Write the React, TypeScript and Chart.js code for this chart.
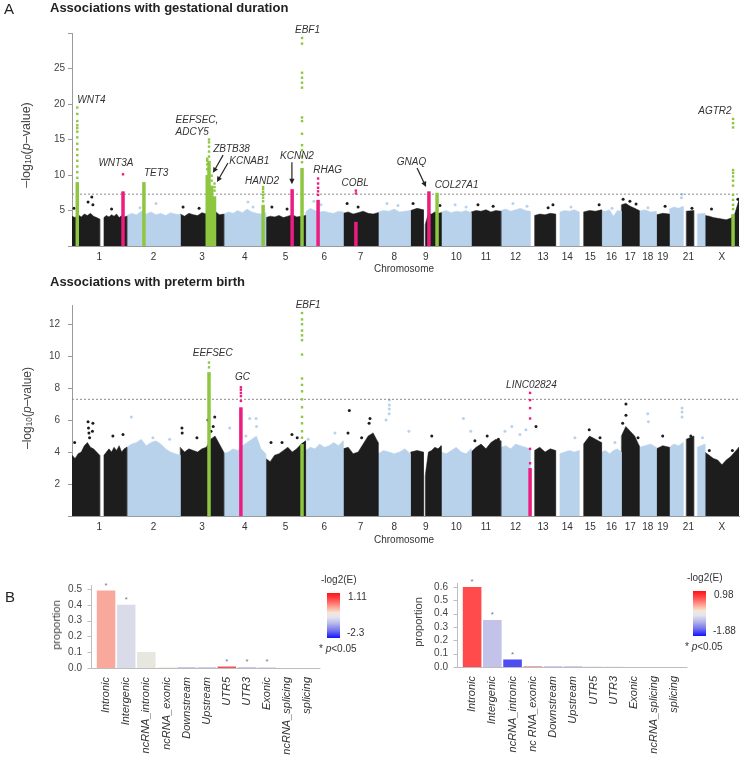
import React, { useEffect, useRef } from 'react';
import { Chart, registerables } from 'chart.js';
Chart.register(...registerables);

const FONT = '"Liberation Sans", Arial, Helvetica, sans-serif';
Chart.defaults.font.family = FONT;

// ---------------- Manhattan data ----------------
const chromNames = ['1','2','3','4','5','6','7','8','9','10','11','12','13','14','15','16','17','18','19','20','21','22','X'];
const chromLengths = [249,243,198,191,181,171,159,146,141,136,135,134,115,107,102,90,81,78,59,63,48,51,155];
const chromTickLabels = ['1','2','3','4','5','6','7','8','9','10','11','12','13','14','15','16','17','18','19','','21','','X'];
const gwThreshold = 7.3;

// [chromosome, startMb, endMb, upper envelope of the dense SNP mass]
const gdBlocks: [number, number, number, number[]][] = [
  [1, 0, 126, [4.2,4.0,4.4,4.1,4.5,4.3,4.6,4.2,4.0,3.8]],
  [1, 145, 249, [4.0,4.3,4.1,4.4,4.2,4.5,4.0,4.3,4.1,4.2]],
  [2, 0, 243, [4.3,4.6,4.4,4.9,4.5,4.8,4.4,4.6,4.3,4.7,4.5,4.4]],
  [3, 0, 198, [4.5,4.2,4.6,4.4,4.3,4.7,4.5,4.8,4.9,4.4,4.5]],
  [4, 0, 191, [4.5,4.8,4.6,5.0,4.7,5.2,4.8,4.6,4.5,4.7]],
  [5, 0, 181, [4.0,4.2,4.1,4.3,4.0,4.2,4.4,4.1,4.2,4.3]],
  [6, 0, 171, [4.8,5.3,5.0,4.8,4.9,4.7,4.6,4.9,4.8]],
  [7, 0, 159, [4.6,4.8,4.5,4.7,4.9,4.6,4.5,4.7]],
  [8, 0, 146, [4.8,5.0,4.9,5.2,4.8,4.9,5.0]],
  [9, 2, 60, [5.0,5.3,5.1]],
  [9, 68, 141, [3.0,4.6,4.5,4.8,4.6,4.7]],
  [10, 0, 136, [4.8,5.0,4.7,4.9,4.8,5.0,4.7]],
  [11, 0, 135, [4.8,5.0,4.9,5.1,4.8,5.0,4.9]],
  [12, 0, 134, [5.0,5.2,4.9,5.1,5.3,5.0,4.9]],
  [13, 19, 115, [4.3,4.5,4.4,4.6,4.5]],
  [14, 19, 107, [4.8,5.0,4.9,5.1,4.8]],
  [15, 20, 102, [4.8,5.0,4.9,5.1]],
  [16, 0, 90, [5.0,4.9,5.1,4.2,5.0,4.9]],
  [17, 0, 81, [5.8,6.0,5.6,5.3,5.0]],
  [18, 0, 78, [4.9,5.1,4.8,4.9]],
  [19, 0, 59, [4.4,4.6,4.5]],
  [20, 0, 63, [5.2,5.5,5.3,5.6]],
  [21, 14, 48, [4.9,5.0]],
  [22, 16, 51, [4.5,4.6]],
  [23, 0, 155, [4.3,4.2,4.0,3.9,3.8,3.7,3.9,4.5,6.5]],
];
const gdOutliers: [number, number, number][] = [
  [1,9,5.3],[1,73,6.2],[1,90,6.9],[1,95,5.8],[1,180,5.2],[2,60,5.4],[2,133,6.0],[3,13,5.5],[3,86,5.3],
  [4,110,6.2],[4,133,5.5],[5,28,5.5],[5,97,5.2],[6,38,6.3],[6,70,5.8],[7,18,6.0],[7,68,5.5],[8,40,6.0],
  [8,90,5.7],[9,13,6.0],[9,135,5.7],[10,63,5.8],[10,113,5.5],[11,31,5.8],[11,100,5.6],[12,55,6.0],
  [12,119,5.6],[13,81,5.4],[13,103,5.8],[14,70,5.5],[15,91,5.8],[16,48,5.3],[17,8,6.6],[17,39,6.3],
  [17,67,5.9],[18,40,5.4],[19,40,5.6],[20,58,7.3],[20,55,6.8],[21,40,5.3],[23,150,6.6],[23,30,5.2],
];
// [chromosome, posMb, top of solid column, individual points above, highlight]
const gdHits: [number, number, number, number[], string][] = [
  [1, 24, 9.0, [9.6,10.4,11.2,12.0,12.8,13.6,14.4,15.3,16.1,16.6,17.0,17.6,18.6,19.5], 'green'],
  [1, 232, 7.7, [10.1], 'pink'],
  [2, 78, 9.0, [], 'green'],
  [3, 123, 10.0, [10.8,11.5,12.0,12.3], 'green'],
  [3, 131, 12.0, [12.6,13.3,14.0,14.6,15.0], 'green'],
  [3, 143, 8.5, [9.2,9.9], 'green'],
  [3, 156, 7.0, [7.8,8.3,8.8], 'green'],
  [4, 179, 5.8, [6.3,6.8,7.2,7.6,8.0,8.3], 'green'],
  [5, 120, 8.0, [], 'pink'],
  [5, 165, 11.0, [11.8,12.6,13.5,14.2,15.8,17.6,18.1,22.3,23.0,23.7,24.4,28.5,29.3], 'green'],
  [6, 57, 6.5, [7.2,7.7,8.2,8.8,9.5], 'pink'],
  [7, 58, 3.4, [7.4,7.8], 'pink'],
  [9, 85, 7.7, [], 'pink'],
  [9, 122, 7.5, [], 'green'],
  [23, 128, 4.5, [5.2,5.8,6.5,7.2,8.5,9.2,9.8,10.3,10.7,16.7,17.3,17.9], 'green'],
];
// [gene, genome position (Mb), -log10 p at text baseline]
const gdGeneLabels: [string, number, number][] = [
  ['WNT4', 24, 20.1], ['WNT3A', 120, 11.2], ['TET3', 327, 9.8], ['EEFSEC,', 471, 17.3], ['ADCY5', 471, 15.6],
  ['ZBTB38', 642, 13.3], ['KCNAB1', 715, 11.6], ['HAND2', 787, 8.7], ['KCNN2', 946, 12.2], ['EBF1', 1014, 30.0],
  ['RHAG', 1097, 10.3], ['COBL', 1226, 8.5], ['GNAQ', 1477, 11.4], ['COL27A1', 1649, 8.2], ['AGTR2', 2848, 18.6],
];
const gdArrows: [number, number, number, number][] = [
  [687, 12.8, 641, 10.3], [709, 11.7, 659, 9.0], [1000, 11.8, 1000, 8.7], [1569, 11.0, 1610, 8.3],
];

const ptbBlocks: [number, number, number, number[]][] = [
  [1, 0, 126, [3.8,3.6,3.9,4.0,4.4,4.6,4.3,4.2,4.0,3.8]],
  [1, 145, 249, [3.8,4.0,4.2,4.0,4.3,4.1,4.4,4.0,4.2,4.3]],
  [2, 0, 243, [4.3,4.5,4.6,4.8,4.4,4.6,4.7,4.5,4.2,4.0,3.9,3.8]],
  [3, 0, 198, [4.3,4.0,4.2,4.1,4.0,4.2,4.3,4.8,5.0,4.5,4.0]],
  [4, 0, 191, [3.9,4.0,4.2,4.1,4.4,4.6,4.8,5.0,4.2,3.9]],
  [5, 0, 181, [3.6,3.4,3.8,3.9,4.1,4.3,4.0,4.2,4.5,4.7]],
  [6, 0, 171, [4.1,4.3,4.2,4.5,4.3,4.4,4.6,4.4,4.7]],
  [7, 0, 159, [4.2,4.3,3.9,4.0,4.5,5.0,5.2,4.6]],
  [8, 0, 146, [3.9,4.1,4.0,3.9,4.0,4.2,3.9]],
  [9, 2, 60, [4.0,4.1,4.0]],
  [9, 68, 141, [2.5,4.0,4.1,4.3,4.2,4.4]],
  [10, 0, 136, [4.0,3.9,4.1,4.3,4.0,3.9,4.2]],
  [11, 0, 135, [4.0,4.3,4.5,4.2,4.6,4.8,4.7]],
  [12, 0, 134, [4.3,4.4,4.2,4.5,4.4,4.3,4.2]],
  [13, 19, 115, [4.1,4.3,4.0,4.2,4.1]],
  [14, 19, 107, [3.9,4.0,4.1,4.0,4.1]],
  [15, 20, 102, [4.5,5.0,4.8,4.6]],
  [16, 0, 90, [4.0,4.1,3.9,4.1,4.2,4.0]],
  [17, 0, 81, [5.0,5.6,5.3,5.0,4.4]],
  [18, 0, 78, [4.3,4.4,4.5,4.3]],
  [19, 0, 59, [4.2,4.4,4.3]],
  [20, 0, 63, [4.3,4.5,4.4,4.6]],
  [21, 14, 48, [4.8,5.0]],
  [22, 16, 51, [4.3,4.5]],
  [23, 0, 155, [4.0,3.8,3.6,3.5,3.2,3.5,3.7,4.0,4.3]],
];
const ptbOutliers: [number, number, number][] = [
  [1,12,4.6],[1,73,5.9],[1,75,5.5],[1,77,5.2],[1,80,4.9],[1,95,5.8],[1,93,5.3],[1,186,5.0],[1,232,5.1],
  [2,21,6.2],[2,119,4.9],[2,195,4.8],
  [3,8,5.5],[3,9,5.2],[3,76,4.9],[3,126,6.0],[3,157,6.2],[3,150,5.6],[3,140,5.3],[4,27,5.5],[4,101,5.0],[4,118,6.1],[4,147,6.1],
  [4,149,5.6],[5,24,4.6],[5,74,4.6],[5,119,5.1],[5,143,4.9],[6,12,4.8],[6,134,5.2],[7,22,5.2],[7,28,6.6],
  [7,84,4.9],[7,118,5.8],[7,122,6.1],[8,36,6.0],[8,51,7.25],[8,51,6.95],[8,51,6.7],[8,50,6.4],[8,140,5.3],
  [9,98,5.0],[10,101,6.1],[10,134,5.3],[11,17,4.7],[11,73,5.0],[11,124,4.8],[12,19,5.3],[12,50,5.6],
  [12,87,5.1],[12,114,5.4],[13,26,5.6],[14,88,4.9],[15,46,5.4],[15,95,4.9],[16,61,4.6],[17,21,7.0],
  [17,21,6.3],[17,6,5.8],[17,76,4.9],[18,39,6.4],[18,42,5.9],[19,29,5.0],[20,58,6.75],[20,58,6.5],
  [20,58,6.2],[21,35,5.0],[22,40,4.9],[23,20,4.1],[23,125,4.1],
];
const ptbHits: [number, number, number, number[], string][] = [
  [3, 131, 9.0, [9.3,9.6], 'green'],
  [4, 78, 6.8, [7.2,7.5,7.7,7.9,8.05], 'pink'],
  [5, 165, 4.5, [4.9,5.3,5.8,6.2,6.8,7.3,7.8,8.2,8.6,10.1,11.0,11.3,11.6,12.0,12.3,12.7], 'green'],
  [12, 133, 3.0, [3.3,4.2,6.1,6.75,7.25,7.7], 'pink'],
];
const ptbGeneLabels: [string, number, number][] = [
  ['EEFSEC', 549, 10.0], ['GC', 741, 8.5], ['EBF1', 1017, 13.0], ['LINC02824', 1974, 8.0],
];

// ---------------- Annotation bar data ----------------
const annoCategoriesGD = ['Intronic','Intergenic','ncRNA_intronic','ncRNA_exonic','Downstream','Upstream','UTR5','UTR3','Exonic','ncRNA_splicing','splicing'];
const annoCategoriesPTB = ['Intronic','Intergenic','ncRNA_intronic','nc RNA_exonic','Downstream','Upstream','UTR5','UTR3','Exonic','ncRNA_splicing','splicing'];
const gdProportion = [0.49, 0.40, 0.101, 0.003, 0.007, 0.007, 0.010, 0.006, 0.005, 0.0005, 0.0003];
const ptbProportion = [0.60, 0.352, 0.056, 0.003, 0.003, 0.003, 0.002, 0.001, 0.0005, 0.0002, 0.0001];
const gdSignificant = [1, 1, 0, 0, 0, 0, 1, 1, 1, 0, 0];
const ptbSignificant = [1, 1, 1, 0, 0, 0, 0, 0, 0, 0, 0];
const gdColorScaleLabels = ['1.11', '-2.3'];
const ptbColorScaleLabels = ['0.98', '-1.88'];

// ---------------- styles ----------------
const BLACK = '#1d1d1d';
const BLUE = '#b9d2ec';
const HIGHLIGHT: Record<string, string> = { green: '#8dc63f', pink: '#ec1c80' };
const gdBarColors = ['#f9a99b','#dadbe9','#e7e7e0','#efe6cf','#c9c9ec','#cfcfee','#f25454','#cbcbef','#d5d5f0','#e0e0f0','#e0e0f0'];
const ptbBarColors = ['#ff4b4b','#c3c3ea','#4d4df2','#f24b4b','#9a9ae8','#a0a0e8','#c0c0ee','#d0d0f0','#d8d8f0','#e0e0f0','#e0e0f0'];

const chromStart: number[] = [];
chromLengths.reduce((s, l) => { chromStart.push(s); return s + l; }, 0);
const genomeLength = chromLengths.reduce((a, b) => a + b, 0);
const gpos = (c: number, p: number) => chromStart[c - 1] + p;
const chromMid = chromLengths.map((l, i) => chromStart[i] + l / 2);
const chromColor = (c: number) => (c % 2 ? BLACK : BLUE);

function annotationPlugin(labels: [string, number, number][], arrows: [number, number, number, number][]) {
  return {
    id: 'geneAnnotations',
    afterDatasetsDraw(chart: any) {
      const { ctx } = chart;
      const x = chart.scales.x, y = chart.scales.y;
      ctx.save();
      ctx.font = `italic 10px ${FONT}`;
      ctx.fillStyle = '#333';
      ctx.textAlign = 'left';
      ctx.textBaseline = 'alphabetic';
      labels.forEach(([t, gx, gy]) => ctx.fillText(t, x.getPixelForValue(gx), y.getPixelForValue(gy)));
      ctx.strokeStyle = '#222';
      ctx.fillStyle = '#222';
      ctx.lineWidth = 1.2;
      arrows.forEach(([x1, y1, x2, y2]) => {
        const px1 = x.getPixelForValue(x1), py1 = y.getPixelForValue(y1);
        const px2 = x.getPixelForValue(x2), py2 = y.getPixelForValue(y2);
        const a = Math.atan2(py2 - py1, px2 - px1);
        const hl = 6;
        ctx.beginPath();
        ctx.moveTo(px1, py1);
        ctx.lineTo(px2 - Math.cos(a) * hl * 0.8, py2 - Math.sin(a) * hl * 0.8);
        ctx.stroke();
        ctx.beginPath();
        ctx.moveTo(px2, py2);
        ctx.lineTo(px2 - hl * Math.cos(a - 0.45), py2 - hl * Math.sin(a - 0.45));
        ctx.lineTo(px2 - hl * Math.cos(a + 0.45), py2 - hl * Math.sin(a + 0.45));
        ctx.closePath();
        ctx.fill();
      });
      ctx.restore();
    },
  };
}

function manhattanConfig(o: any): any {
  const datasets: any[] = [];
  o.hits.forEach(([c, p, top, dots, col]: any) => {
    const x = gpos(c, p);
    const color = HIGHLIGHT[col];
    datasets.push({ data: dots.map((v: number) => ({ x, y: v })), showLine: false, pointRadius: 1.7, pointStyle: 'rect',
      pointBackgroundColor: color, pointBorderWidth: 0, order: 0 });
    datasets.push({ data: [{ x, y: 0 }, { x, y: top }], borderColor: color, borderWidth: 3.5, pointRadius: 0,
      borderCapStyle: 'butt', order: 1 });
  });
  datasets.push({ data: [{ x: 0, y: gwThreshold }, { x: genomeLength, y: gwThreshold }], borderColor: '#8a8a8a',
    borderWidth: 1, borderDash: [2, 2], pointRadius: 0, order: 2 });
  datasets.push({ data: o.outliers.map(([c, p, v]: any) => ({ x: gpos(c, p), y: v })), showLine: false, pointRadius: 1.5,
    pointBackgroundColor: o.outliers.map(([c]: any) => chromColor(c)), pointBorderWidth: 0, order: 3 });
  o.blocks.forEach(([c, s, e, h]: any) => {
    const pts: any[] = [{ x: gpos(c, s), y: 0 }];
    h.forEach((v: number, i: number) => pts.push({ x: gpos(c, s + ((e - s) * i) / (h.length - 1)), y: v }));
    pts.push({ x: gpos(c, e), y: 0 });
    const col = chromColor(c);
    datasets.push({ data: pts, borderColor: col, backgroundColor: col, borderWidth: 0.5, pointRadius: 0, fill: 'origin', order: 4 });
  });
  return {
    type: 'line',
    data: { datasets },
    options: {
      animation: false, responsive: false, events: [],
      layout: { padding: { left: 32, right: 5, top: o.padTop, bottom: 0 } },
      plugins: { legend: { display: false }, tooltip: { enabled: false } },
      scales: {
        x: {
          type: 'linear', min: 0, max: genomeLength,
          grid: { display: false, drawTicks: false }, border: { display: true, color: '#9a9a9a' },
          afterBuildTicks: (a: any) => { a.ticks = chromMid.map((v) => ({ value: v })); },
          afterFit: (s: any) => { s.height = o.xAxisH; },
          ticks: { autoSkip: false, maxRotation: 0, padding: 5, color: '#333', font: { size: 10 },
            callback: (_v: any, i: number) => chromTickLabels[i] },
        },
        y: {
          type: 'linear', min: 0, max: o.yMax,
          afterFit: (s: any) => { s.width = 40; },
          afterBuildTicks: (a: any) => { a.ticks = a.ticks.filter((t: any) => t.value <= o.yLastTick + 1e-6); },
          grid: { display: true, drawOnChartArea: false, tickLength: 4, color: '#9a9a9a' },
          border: { display: true, color: '#9a9a9a' },
          ticks: { stepSize: o.yStep, padding: o.yPad, autoSkip: false, color: '#444', font: { size: 10 },
            callback: (v: number) => (v === 0 || v > o.yLabelMax ? '' : String(v)) },
        },
      },
    },
    plugins: [annotationPlugin(o.labels, o.arrows)],
  };
}

function barAxesPlugin(flags: number[]) {
  return {
    id: 'barAxes',
    afterDatasetsDraw(chart: any) {
      const { ctx, chartArea } = chart;
      const { left, right, top, bottom } = chartArea;
      const y = chart.scales.y;
      ctx.save();
      ctx.strokeStyle = '#bdbdbd';
      ctx.lineWidth = 1;
      const ax = Math.round(left - 5) + 0.5;
      const by = Math.round(bottom) + 0.5;
      ctx.beginPath();
      ctx.moveTo(ax, top - 4);
      ctx.lineTo(ax, by);
      ctx.lineTo(right + 3, by);
      y.ticks.forEach((t: any) => {
        const py = Math.round(y.getPixelForValue(t.value)) + 0.5;
        ctx.moveTo(ax - 4, py);
        ctx.lineTo(ax, py);
      });
      ctx.stroke();
      const meta = chart.getDatasetMeta(0);
      ctx.fillStyle = '#777';
      ctx.font = `8px ${FONT}`;
      ctx.textAlign = 'center';
      ctx.textBaseline = 'bottom';
      flags.forEach((f, i) => {
        if (!f) return;
        const el = meta.data[i];
        ctx.fillText('*', el.x, el.y - 1);
      });
      ctx.restore();
    },
  };
}

function barConfig(o: any): any {
  return {
    type: 'bar',
    data: {
      labels: o.labels,
      datasets: [{ data: o.values, backgroundColor: o.colors, borderWidth: 0, barPercentage: 0.92, categoryPercentage: 1 }],
    },
    options: {
      animation: false, responsive: false, events: [],
      layout: { padding: { left: o.padLeft, right: o.padRight, top: o.padTop, bottom: 0 } },
      plugins: { legend: { display: false }, tooltip: { enabled: false } },
      scales: {
        x: {
          grid: { display: false, drawTicks: false }, border: { display: false },
          afterFit: (s: any) => { s.height = o.xAxisH; },
          ticks: { minRotation: 90, maxRotation: 90, autoSkip: false, padding: 9, color: '#333',
            font: { size: 11, style: 'italic' } },
        },
        y: {
          min: 0, max: o.yMax,
          grid: { display: false, drawTicks: true, tickLength: 11 }, border: { display: false },
          afterFit: (s: any) => { s.width = 45; },
          ticks: { stepSize: 0.1, padding: 3, autoSkip: false, color: '#444', font: { size: 10 },
            callback: (v: number) => Number(v).toFixed(1) },
        },
      },
    },
    plugins: [barAxesPlugin(o.flags)],
  };
}

const abs = (s: React.CSSProperties): React.CSSProperties => ({ position: 'absolute', whiteSpace: 'nowrap', ...s });
const gradient = 'linear-gradient(to bottom, #ff1414 0%, #ff4a4a 14%, #ff9d90 30%, #f5e7d8 44%, #e4e4ee 54%, #b6b6ec 68%, #7272ee 84%, #1212ff 100%)';

function YTitle({ cx, cy, size }: { cx: number; cy: number; size: number }) {
  return (
    <div style={abs({ left: cx, top: cy, transform: 'translate(-50%, -50%) rotate(-90deg)', fontSize: size, color: '#444', lineHeight: '14px' })}>
      –log<sub style={{ fontSize: '0.7em', verticalAlign: '-0.2em' }}>10</sub>(<i>p</i>–value)
    </div>
  );
}

function ColorLegend({ left, top, labels }: { left: number; top: number; labels: string[] }) {
  return (
    <>
      <div style={abs({ left: left - 6, top: top - 19, fontSize: 10, color: '#333', lineHeight: '12px' })}>-log2(E)</div>
      <div style={abs({ left, top, width: 13, height: 45, background: gradient })} />
      <div style={abs({ left: left + 21, top: top - 2, fontSize: 10, color: '#333', lineHeight: '12px' })}>{labels[0]}</div>
      <div style={abs({ left: left + 20, top: top + 34, fontSize: 10, color: '#333', lineHeight: '12px' })}>{labels[1]}</div>
      <div style={abs({ left: left - 8, top: top + 50, fontSize: 10, color: '#333', lineHeight: '12px' })}>* <i>p</i>&lt;0.05</div>
    </>
  );
}

export default function App() {
  const r1 = useRef<HTMLCanvasElement>(null);
  const r2 = useRef<HTMLCanvasElement>(null);
  const r3 = useRef<HTMLCanvasElement>(null);
  const r4 = useRef<HTMLCanvasElement>(null);

  useEffect(() => {
    const charts: Chart[] = [];
    charts.push(new Chart(r1.current as HTMLCanvasElement, manhattanConfig({
      blocks: gdBlocks, hits: gdHits, outliers: gdOutliers, labels: gdGeneLabels, arrows: gdArrows,
      yMax: 30, yStep: 5, yLastTick: 30, yLabelMax: 25, yPad: 3, padTop: 33, xAxisH: 22,
    })));
    charts.push(new Chart(r2.current as HTMLCanvasElement, manhattanConfig({
      blocks: ptbBlocks, hits: ptbHits, outliers: ptbOutliers, labels: ptbGeneLabels, arrows: [],
      yMax: 13.2, yStep: 2, yLastTick: 12, yLabelMax: 12, yPad: 8, padTop: 15, xAxisH: 22,
    })));
    charts.push(new Chart(r3.current as HTMLCanvasElement, barConfig({
      labels: annoCategoriesGD, values: gdProportion, colors: gdBarColors, flags: gdSignificant,
      yMax: 0.5, padLeft: 11, padRight: 10, padTop: 14, xAxisH: 107,
    })));
    charts.push(new Chart(r4.current as HTMLCanvasElement, barConfig({
      labels: annoCategoriesPTB, values: ptbProportion, colors: ptbBarColors, flags: ptbSignificant,
      yMax: 0.6, padLeft: 12, padRight: 10, padTop: 14, xAxisH: 106,
    })));
    return () => charts.forEach((c) => c.destroy());
  }, []);

  return (
    <div style={{ position: 'absolute', left: 0, top: 0, width: 744, height: 783, background: '#fff', fontFamily: FONT, color: '#222' }}>
      <canvas ref={r1} width={744} height={268} style={abs({ left: 0, top: 0 })} />
      <canvas ref={r2} width={744} height={248} style={abs({ left: 0, top: 290 })} />
      <canvas ref={r3} width={290} height={200} style={abs({ left: 40, top: 575 })} />
      <canvas ref={r4} width={292} height={200} style={abs({ left: 405, top: 573 })} />

      <div style={abs({ left: 4, top: 1, fontSize: 15, lineHeight: '15px' })}>A</div>
      <div style={abs({ left: 50, top: 1, fontSize: 13, fontWeight: 'bold', lineHeight: '13px' })}>Associations with gestational duration</div>
      <YTitle cx={27} cy={145} size={12.5} />
      <div style={abs({ left: 374, top: 264, fontSize: 10, lineHeight: '10px', color: '#333' })}>Chromosome</div>

      <div style={abs({ left: 50, top: 275, fontSize: 13, fontWeight: 'bold', lineHeight: '13px' })}>Associations with preterm birth</div>
      <YTitle cx={28} cy={408} size={12} />
      <div style={abs({ left: 374, top: 535, fontSize: 10, lineHeight: '10px', color: '#333' })}>Chromosome</div>

      <div style={abs({ left: 5, top: 589, fontSize: 15, lineHeight: '15px' })}>B</div>
      <div style={abs({ left: 56, top: 625, transform: 'translate(-50%, -50%) rotate(-90deg)', fontSize: 11, color: '#444', lineHeight: '12px' })}>proportion</div>
      <div style={abs({ left: 418, top: 622, transform: 'translate(-50%, -50%) rotate(-90deg)', fontSize: 11, color: '#444', lineHeight: '12px' })}>proportion</div>
      <ColorLegend left={327} top={593} labels={gdColorScaleLabels} />
      <ColorLegend left={693} top={591} labels={ptbColorScaleLabels} />
    </div>
  );
}
